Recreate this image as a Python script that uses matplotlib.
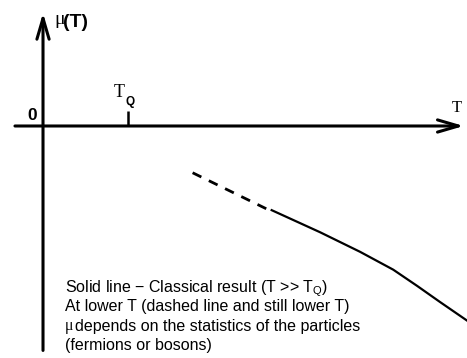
import matplotlib
matplotlib.use("Agg")
import matplotlib.pyplot as plt

# ---- data (schematic units, T_Q = 1) ----
T_Q = 1.0
dashed_T = [1.76, 2.64]
dashed_mu = [-0.55, -0.98]
solid_T = [2.69, 3.26, 3.73, 4.12, 4.40, 4.67, 4.99]
solid_mu = [-0.99, -1.25, -1.48, -1.69, -1.88, -2.07, -2.29]

text_lines = [
    "Solid line \u2212 Classical result (T >> T$_\\mathregular{Q}$)",
    "At lower T (dashed line and still lower T)",
    "depends on the statistics of the particles",
    "(fermions or bosons)",
]

W, H = 467, 358
fig = plt.figure(figsize=(W / 100, H / 100), dpi=100)
ax = fig.add_axes([0, 0, 1, 1])
ax.set_xlim(-0.506, 4.988)
ax.set_ylim(-2.729, 1.482)
ax.set_axis_off()

def fx(px):
    return px / W

def fy(py):
    return 1 - py / H

arrow = dict(arrowstyle="->,head_length=0.75,head_width=0.22", lw=2.2,
             color="black", shrinkA=0, shrinkB=0, mutation_scale=20)
# x axis
ax.annotate("", xy=(4.95, 0), xytext=(-0.33, 0), arrowprops=arrow)
# y axis
ax.annotate("", xy=(0, 1.33), xytext=(0, -2.64), arrowprops=arrow)
# T_Q tick
ax.plot([T_Q, T_Q], [0, 0.18], color="black", lw=1.8, solid_capstyle="butt")

# curves
ax.plot(dashed_T, dashed_mu, color="black", lw=2.0, ls=(0, (3.5, 3.0)))
ax.plot(solid_T, solid_mu, color="black", lw=1.6, solid_joinstyle="round")

sans = "Liberation Sans"
serif = "Liberation Serif"

# labels
fig.text(fx(27), fy(120), "0", fontsize=12.5, fontweight="bold", family=sans,
         ha="left", va="baseline")
fig.text(fx(54), fy(24), "\u03bc", fontsize=14, family=serif, ha="left", va="baseline")
fig.text(fx(63), fy(27), "(T)", fontsize=14, fontweight="bold", family=sans,
         ha="left", va="baseline")
fig.text(fx(114), fy(97), "T", fontsize=13, family=serif, ha="left", va="baseline")
fig.text(fx(126), fy(105), "Q", fontsize=8.5, fontweight="bold", family=sans,
         ha="left", va="baseline")
fig.text(fx(452), fy(112), "T", fontsize=12, family=serif, ha="left", va="baseline")

# explanatory text
fs = 11.5
baselines = [292, 311, 330.5, 350]
fig.text(fx(65), fy(baselines[0]), text_lines[0], fontsize=fs, family=sans,
         ha="left", va="baseline")
fig.text(fx(65), fy(baselines[1]), text_lines[1], fontsize=fs, family=sans,
         ha="left", va="baseline")
fig.text(fx(65), fy(baselines[2]), "\u03bc", fontsize=fs, family=serif,
         ha="left", va="baseline")
fig.text(fx(75), fy(baselines[2]), text_lines[2], fontsize=fs, family=sans,
         ha="left", va="baseline")
fig.text(fx(65), fy(baselines[3]), text_lines[3], fontsize=fs, family=sans,
         ha="left", va="baseline")

fig.savefig("out.png", dpi=100, facecolor="white")
